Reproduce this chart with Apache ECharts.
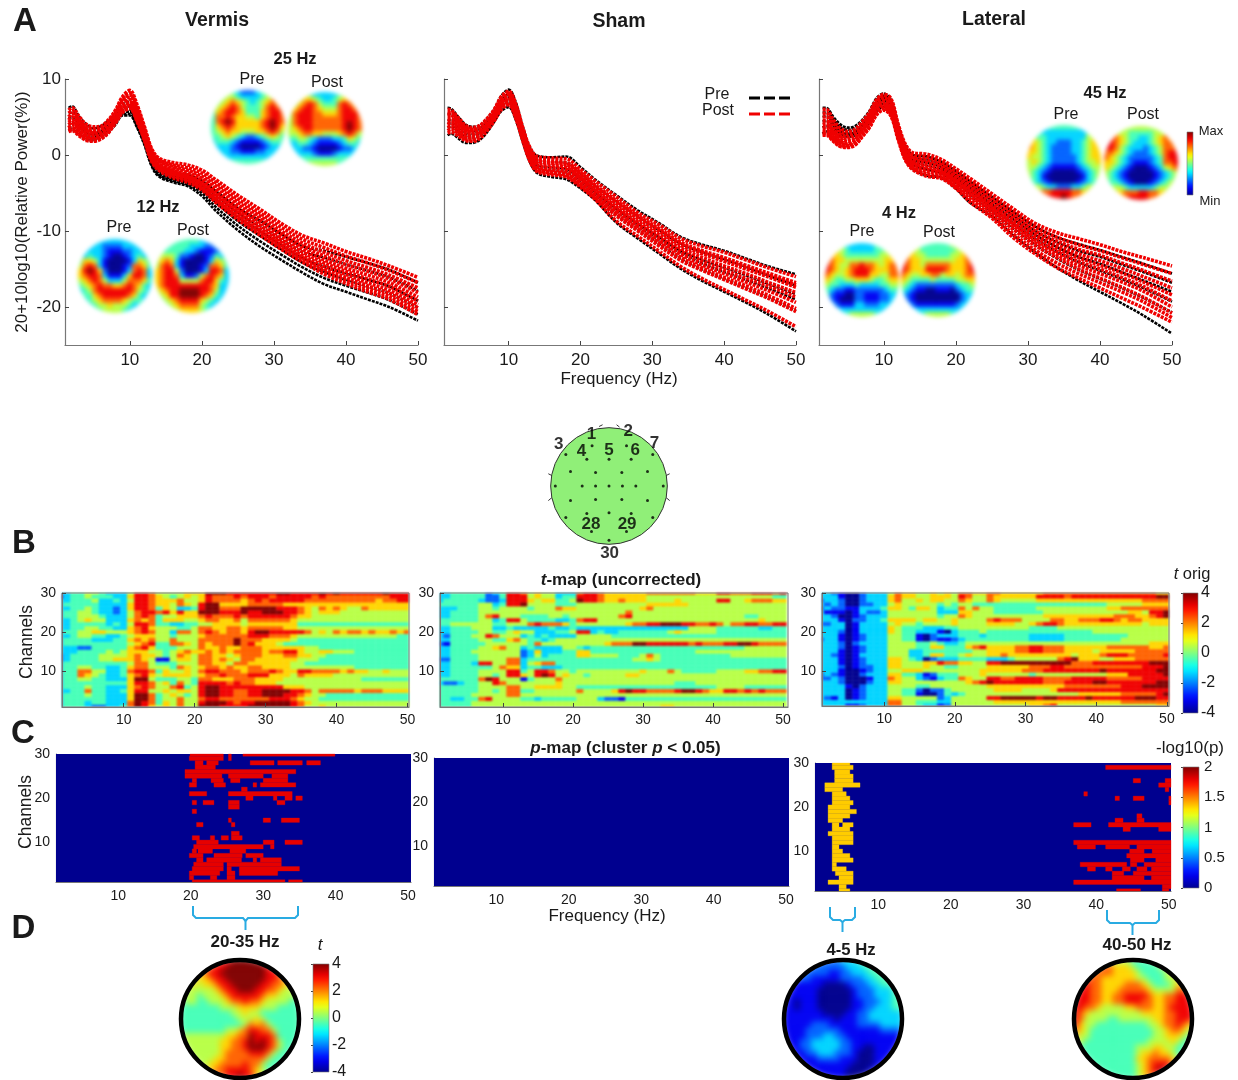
<!DOCTYPE html>
<html><head><meta charset="utf-8">
<style>html,body{margin:0;padding:0;background:#fff}
.l{position:absolute;left:0;top:0;width:1238px;height:1080px}
#u3{filter:blur(3.2px);z-index:1}#u2{filter:blur(2.2px);z-index:1}#u1{filter:blur(1.25px);z-index:1}#c{filter:blur(0.45px);z-index:2}</style>
<script src="https://cdn.jsdelivr.net/npm/echarts@6/dist/echarts.min.js"></script>
</head><body><div id="u3" class="l"></div><div id="u2" class="l"></div><div id="u1" class="l"></div><div id="c" class="l"></div>
<script>
const freqs=[1.5,2,3,4,5,6,7,8,9,10,11,12,13,14,16,18,20,22,25,28,31,34,37,40,43,46,50];
const vermisPre=[
[6.2,6.4,5.0,4.0,3.5,3.8,4.5,5.4,6.6,7.0,5.2,2.8,0.0,-1.4,-2.4,-2.6,-3.4,-4.8,-7.0,-8.6,-10.4,-12.0,-12.6,-13.4,-14.2,-15.1,-16.8],
[5.5,5.6,4.4,3.4,3.0,3.2,3.9,5.0,6.2,6.4,4.7,2.4,-0.4,-1.8,-2.7,-3.0,-3.9,-5.3,-7.6,-9.3,-11.1,-12.8,-13.5,-14.4,-15.2,-16.1,-17.9],
[4.8,5.0,3.9,3.0,2.7,3.0,3.7,4.7,5.9,6.0,4.3,2.1,-0.7,-2.1,-3.0,-3.3,-4.3,-5.9,-8.2,-10.0,-11.9,-13.6,-14.7,-15.6,-16.4,-17.3,-19.2],
[4.0,4.3,3.4,2.6,2.3,2.7,3.4,4.4,5.6,5.7,4.0,1.8,-1.0,-2.4,-3.2,-3.6,-4.6,-6.3,-8.7,-10.6,-12.4,-14.2,-15.4,-16.4,-17.3,-18.2,-20.1],
[3.5,3.6,2.9,2.2,2.0,2.4,3.2,4.2,5.4,5.4,3.8,1.6,-1.2,-2.6,-3.4,-3.9,-5.0,-6.9,-9.3,-11.3,-13.1,-14.8,-16.2,-17.2,-18.1,-19.1,-21.0],
[3.2,3.3,2.6,2.0,1.9,2.2,3.0,4.0,5.2,5.2,3.6,1.4,-1.4,-2.8,-3.6,-4.1,-5.4,-7.4,-9.9,-12.0,-13.8,-15.5,-17.0,-18.0,-19.0,-20.0,-21.8]];
const vermisPost=[
[5.9,6.2,5.0,4.0,3.7,3.8,4.6,5.9,7.7,8.5,6.6,3.8,0.9,-0.4,-1.0,-1.3,-2.0,-3.3,-5.3,-7.1,-9.0,-10.6,-11.6,-12.7,-13.6,-14.6,-16.1],
[5.5,5.8,4.6,3.7,3.4,3.6,4.4,5.7,7.4,8.2,6.3,3.6,0.7,-0.6,-1.3,-1.7,-2.4,-3.7,-5.8,-7.6,-9.5,-11.1,-12.2,-13.3,-14.2,-15.2,-16.8],
[5.0,5.4,4.3,3.4,3.1,3.4,4.2,5.5,7.1,7.9,6.0,3.3,0.5,-0.8,-1.5,-2.0,-2.8,-4.1,-6.2,-8.0,-10.0,-11.6,-12.8,-13.9,-14.8,-15.8,-17.5],
[4.6,5.0,4.0,3.2,2.9,3.2,4.0,5.3,6.9,7.6,5.8,3.1,0.3,-1.0,-1.8,-2.3,-3.1,-4.5,-6.6,-8.4,-10.4,-12.0,-13.3,-14.4,-15.3,-16.3,-18.1],
[4.3,4.6,3.7,2.9,2.7,3.0,3.8,5.1,6.6,7.3,5.5,2.9,0.1,-1.2,-2.0,-2.6,-3.4,-4.9,-7.0,-8.8,-10.8,-12.4,-13.8,-14.9,-15.8,-16.8,-18.7],
[4.0,4.3,3.4,2.7,2.5,2.8,3.6,4.9,6.4,7.0,5.3,2.7,-0.1,-1.4,-2.2,-2.8,-3.7,-5.2,-7.3,-9.2,-11.2,-12.8,-14.2,-15.3,-16.3,-17.3,-19.2],
[3.6,4.0,3.2,2.5,2.3,2.6,3.4,4.7,6.1,6.7,5.0,2.5,-0.3,-1.6,-2.4,-3.0,-3.9,-5.5,-7.6,-9.6,-11.5,-13.2,-14.6,-15.7,-16.8,-17.8,-19.7],
[3.4,3.6,2.9,2.3,2.1,2.4,3.2,4.5,5.9,6.5,4.8,2.3,-0.5,-1.7,-2.6,-3.2,-4.2,-5.8,-7.9,-9.9,-11.8,-13.5,-15.0,-16.1,-17.2,-18.2,-20.1],
[3.2,3.4,2.7,2.1,1.9,2.3,3.1,4.3,5.7,6.3,4.6,2.1,-0.6,-1.8,-2.8,-3.4,-4.4,-6.0,-8.2,-10.2,-12.1,-13.8,-15.3,-16.5,-17.6,-18.6,-20.6],
[3.1,3.2,2.5,1.9,1.8,2.1,2.9,4.2,5.6,6.1,4.4,2.0,-0.8,-2.0,-3.0,-3.6,-4.6,-6.3,-8.5,-10.5,-12.4,-14.1,-15.7,-16.9,-18.0,-19.0,-21.0]];
const shamPre=[
[6.2,6.1,5.0,4.0,3.7,3.9,4.8,6.0,7.8,8.6,6.9,3.6,0.9,-0.1,-0.3,-0.2,-1.6,-3.2,-5.3,-7.3,-9.0,-10.8,-11.8,-12.6,-13.6,-14.6,-15.7],
[5.4,5.4,4.5,3.5,3.2,3.5,4.4,5.6,7.3,8.0,6.2,3.1,0.4,-0.7,-0.9,-1.0,-2.4,-4.0,-6.1,-8.1,-9.9,-11.7,-12.8,-13.7,-14.7,-15.8,-17.2],
[4.6,4.6,3.8,3.0,2.8,3.1,4.0,5.2,6.9,7.6,5.8,2.7,0.0,-1.3,-1.6,-1.8,-3.1,-4.8,-7.0,-9.0,-10.8,-12.6,-13.8,-14.8,-15.8,-16.9,-18.3],
[4.1,4.2,3.4,2.7,2.5,2.9,3.8,5.0,6.6,7.3,5.5,2.4,-0.3,-1.6,-2.0,-2.2,-3.5,-5.2,-7.3,-9.3,-11.2,-12.9,-14.3,-15.4,-16.4,-17.5,-19.0],
[3.6,3.7,3.0,2.3,2.2,2.6,3.5,4.7,6.3,6.9,5.1,2.1,-0.6,-1.9,-2.3,-2.6,-3.9,-5.5,-7.9,-9.9,-11.8,-13.7,-15.1,-16.3,-17.5,-18.7,-20.5],
[2.6,2.8,2.2,1.6,1.6,2.0,3.0,4.4,5.8,6.3,4.6,1.6,-1.0,-2.4,-2.9,-3.2,-4.4,-5.9,-8.9,-11.0,-13.0,-15.0,-16.6,-18.0,-19.4,-20.9,-23.2]];
const shamPost=[
[6.0,5.9,4.9,3.9,3.6,3.9,4.8,6.0,7.7,8.4,6.7,3.5,0.9,-0.2,-0.4,-0.5,-1.9,-3.4,-5.5,-7.6,-9.2,-11.0,-12.0,-12.8,-13.8,-14.8,-16.0],
[5.6,5.6,4.6,3.7,3.4,3.7,4.6,5.8,7.5,8.2,6.4,3.2,0.6,-0.5,-0.8,-1.0,-2.3,-3.9,-6.0,-8.0,-9.7,-11.5,-12.6,-13.5,-14.5,-15.5,-16.8],
[5.4,5.3,4.4,3.5,3.3,3.6,4.5,5.7,7.3,8.1,6.3,3.1,0.4,-0.7,-1.0,-1.2,-2.5,-4.1,-6.2,-8.2,-9.9,-11.7,-12.8,-13.8,-14.8,-15.8,-17.1],
[5.2,5.2,4.3,3.4,3.2,3.5,4.4,5.6,7.2,8.0,6.2,3.0,0.3,-0.8,-1.1,-1.3,-2.7,-4.3,-6.4,-8.4,-10.1,-11.9,-13.0,-14.0,-15.0,-16.0,-17.4],
[4.8,4.8,4.0,3.2,3.0,3.3,4.2,5.4,7.0,7.8,6.0,2.8,0.1,-1.1,-1.4,-1.6,-3.0,-4.6,-6.8,-8.8,-10.5,-12.3,-13.5,-14.6,-15.6,-16.7,-18.1],
[4.4,4.5,3.7,3.0,2.8,3.1,4.0,5.2,6.8,7.5,5.7,2.6,-0.1,-1.4,-1.7,-1.9,-3.2,-4.9,-7.1,-9.1,-10.9,-12.7,-14.0,-15.1,-16.2,-17.2,-18.7],
[4.0,4.2,3.4,2.7,2.5,2.9,3.8,5.0,6.6,7.3,5.5,2.4,-0.3,-1.6,-2.0,-2.2,-3.5,-5.2,-7.4,-9.4,-11.3,-13.1,-14.5,-15.6,-16.7,-17.8,-19.4],
[3.6,3.8,3.1,2.4,2.3,2.7,3.6,4.8,6.4,7.0,5.3,2.2,-0.5,-1.8,-2.2,-2.5,-3.8,-5.4,-7.7,-9.7,-11.6,-13.5,-14.9,-16.1,-17.2,-18.4,-20.2],
[3.2,3.4,2.8,2.1,2.0,2.4,3.4,4.6,6.2,6.8,5.0,2.0,-0.7,-2.0,-2.4,-2.7,-4.0,-5.6,-8.0,-10.0,-12.0,-13.9,-15.2,-16.4,-17.6,-18.8,-20.6],
[2.9,3.0,2.5,1.9,1.8,2.2,3.2,4.5,6.0,6.6,4.8,1.8,-0.9,-2.2,-2.6,-2.9,-4.2,-5.8,-8.7,-10.7,-12.7,-14.7,-16.3,-17.7,-19.1,-20.5,-22.6]];
const lateralPre=[
[6.2,6.2,5.0,4.0,3.6,3.8,4.6,5.8,7.5,8.1,7.2,3.9,1.2,0.0,-0.2,-0.9,-2.1,-3.5,-5.5,-7.5,-9.4,-10.8,-11.7,-12.5,-13.4,-14.3,-15.6],
[5.6,5.6,4.6,3.6,3.3,3.5,4.4,5.6,7.2,7.8,6.9,3.6,0.9,-0.3,-0.6,-1.2,-2.5,-3.9,-6.0,-8.0,-10.0,-11.5,-12.6,-13.4,-14.4,-15.4,-16.8],
[5.0,5.1,4.2,3.3,3.0,3.3,4.1,5.3,6.9,7.5,6.6,3.3,0.6,-0.6,-1.0,-1.6,-2.9,-4.3,-6.5,-8.5,-10.5,-12.1,-13.4,-14.3,-15.4,-16.5,-18.0],
[4.4,4.5,3.8,3.0,2.8,3.0,3.9,5.0,6.6,7.2,6.3,3.0,0.3,-0.9,-1.4,-2.0,-3.2,-4.7,-6.9,-9.0,-11.0,-12.7,-14.1,-15.2,-16.3,-17.5,-19.3],
[3.6,3.8,3.4,2.8,2.6,2.8,3.6,4.7,6.2,6.8,5.9,2.7,0.0,-1.3,-1.9,-2.4,-3.7,-5.3,-7.5,-9.7,-11.8,-13.6,-15.1,-16.3,-17.5,-18.8,-20.7],
[2.8,3.1,3.0,2.5,2.4,2.6,3.3,4.3,5.8,6.3,5.4,2.3,-0.5,-1.8,-2.7,-3.0,-4.4,-6.3,-8.1,-10.6,-12.8,-14.8,-16.5,-18.0,-19.5,-21.1,-23.5]];
const lateralPost=[
[6.0,6.0,4.6,3.5,3.1,3.4,4.4,5.6,7.3,8.0,7.4,4.0,1.4,0.3,0.1,-0.6,-1.8,-3.1,-5.1,-7.1,-9.0,-10.2,-11.0,-11.8,-12.7,-13.5,-14.6],
[5.5,5.5,4.2,3.1,2.7,3.0,4.0,5.3,7.0,7.8,7.1,3.7,1.1,0.0,-0.3,-1.0,-2.2,-3.5,-5.6,-7.6,-9.5,-10.8,-11.8,-12.6,-13.5,-14.4,-15.6],
[5.0,5.0,3.7,2.7,2.4,2.7,3.7,5.0,6.7,7.5,6.8,3.5,0.9,-0.3,-0.7,-1.3,-2.6,-3.9,-6.0,-8.0,-10.0,-11.3,-12.4,-13.2,-14.2,-15.2,-16.6],
[4.5,4.5,3.3,2.4,2.1,2.4,3.4,4.8,6.4,7.2,6.5,3.3,0.7,-0.5,-1.0,-1.6,-2.9,-4.2,-6.4,-8.4,-10.4,-11.8,-13.0,-13.9,-14.9,-16.0,-17.5],
[4.0,4.1,3.0,2.1,1.8,2.1,3.2,4.6,6.2,7.0,6.2,3.0,0.4,-0.8,-1.3,-1.9,-3.1,-4.5,-6.7,-8.8,-10.8,-12.3,-13.5,-14.5,-15.5,-16.7,-18.4],
[3.6,3.7,2.7,1.8,1.5,1.9,3.0,4.3,6.0,6.7,6.0,2.8,0.2,-1.0,-1.6,-2.2,-3.4,-4.8,-7.0,-9.1,-11.2,-12.7,-14.0,-15.0,-16.1,-17.3,-19.2],
[3.3,3.3,2.4,1.6,1.3,1.7,2.8,4.1,5.8,6.5,5.7,2.6,0.0,-1.2,-1.9,-2.4,-3.6,-5.1,-7.3,-9.4,-11.5,-13.1,-14.5,-15.6,-16.7,-17.9,-20.0],
[3.0,3.0,2.1,1.4,1.2,1.5,2.6,3.9,5.6,6.3,5.5,2.4,-0.3,-1.5,-2.2,-2.6,-3.9,-5.4,-7.6,-9.8,-11.9,-13.5,-15.0,-16.2,-17.4,-18.7,-20.8],
[2.8,2.8,1.9,1.2,1.1,1.4,2.5,3.7,5.4,6.1,5.3,2.2,-0.5,-1.7,-2.5,-2.9,-4.2,-5.8,-8.0,-10.4,-12.5,-14.2,-15.6,-16.8,-18.0,-19.3,-21.4],
[2.6,2.6,1.8,1.1,1.0,1.3,2.4,3.6,5.3,5.9,5.1,2.0,-0.7,-1.9,-2.8,-3.1,-4.4,-6.2,-8.3,-10.9,-13.0,-14.8,-16.2,-17.5,-18.8,-20.1,-22.0]];

// t-map cells: rows channel 30 down to 1, columns 1..50 Hz; digit 0..9 spans t -4..4
const tVermis=[
"3344554333 5887555566 6999888888 8998888989 8888889888","1344544433 6887654565 6877787888 7888887877 7777777888",
"3344453343 5887666755 6877776787 8888877777 7777767788","3444443333 6887665765 8996666777 7766666666 6666666666",
"3344543323 6887465334 8997779999 9888765767 6557666666","3445543323 5788786866 9998889889 9988765666 5555555555",
"3445554333 5787455666 7877787888 8887665555 5555555555","3345655333 6767466655 6776675777 7776555555 5555555555",
"3344444343 5887443344 5566665666 6666444444 4444444444","3344554433 6786555445 7766776777 7766555555 5555555555",
"3445566555 6787553775 7876776899 8888875657 6776766767","3345544334 5666554555 6777777888 7776555555 5555555544",
"3444433344 6767557555 7777797776 6665444444 4444444444","3444444444 5678447765 7677797866 6544444444 4444444444",
"3332244444 6786444555 7667667776 6666655444 4444444444","3334444545 6665545676 6767677776 7788655665 5544444444",
"2344445555 6766545765 7766567776 6677665544 4444444444","2344445566 6765115665 7767657766 6666555444 4444444444",
"3444444444 5775444555 7766577666 6665544444 4444444444","3445544334 6775554765 6776766776 6665555555 5544444444",
"3447755334 7887465565 7887776777 8766887777 6766556555","3447654334 6786566665 6778777888 6665766665 5555555555",
"3445544333 6995444554 7766677766 6655555555 5554444444","3444444444 6887564754 8888787766 6555555555 5555555555",
"3444544333 6787557845 8998888888 8866655555 5555555555","3344744334 6885565665 8998877889 9998875777 7767776666",
"3444544333 6997456545 8998877889 9988765544 4444444444","3444444333 6997455755 7887777777 8887655444 4444444444",
"3444344333 7987465755 8999878899 9998765555 5555555555","3444322334 7986565755 9998888999 9998755655 5555555555"];
const tSham=[
"3344444234 8875655333 7887666666 7777777666 8877788878","3344444224 8885655344 8887666666 5555555555 5555555544",
"3444443223 8886566445 9887667666 5555655555 8855677766","4444445534 8895555444 5555555555 6666665555 5555555555",
"3334445545 5554555766 5555555556 7555555555 5555555555","3344445555 5555555555 5555555755 5555555555 5555555555",
"3344445785 5544445545 5555557855 5555555555 5555445555","4444445534 8854444334 7885555555 5555555555 5555556555",
"4455555544 5557877764 5555555677 8899988778 7577887788","3344455533 4333334334 3333333333 3333335555 4444443344",
"3344445544 5655333445 8834334444 4445655555 4444444444","3244455875 5534343333 5555544444 4444444444 4444444444",
"3344445544 6754434555 5555555555 5555555555 5555555555","2144444555 5554755555 5555677799 8888887877 7889987777",
"3344445567 5534333355 4344444444 4444444444 4444555555","3344455555 5523633344 6644444444 4444444555 5555555555",
"3344445555 5523534444 6655554445 7544444444 4455555555","2244445555 7734444444 4444444455 6544444444 4444444444",
"3344438855 7735677444 4444444444 4444444444 4444444444","3344444457 6634433344 4444444444 4444444444 4444444444",
"3344445555 8845887554 5555555556 5557544444 5555667788","3344445545 8865898565 5455555665 5555555555 5555555555",
"4444447985 5514555755 5555555555 5555555555 5555555555","3223445587 5555555655 5555555555 5555444555 5555555555",
"4444445555 7755666655 4444444444 4444444444 5555444444","4444445545 7744555555 7555568988 7777899876 6887878777",
"4444455555 7755555555 5555555555 5555555555 5555555555","4433447855 5544344444 5553221444 4444444444 4444444444",
"4444455555 5555555555 5555555555 5555555555 5555555555","4444455555 5555555555 5555555555 5566555555 5555555555"];
const tLateral=[
"3321002333 5766556565 7766776666 6677777777 7777777766","3331002333 6766556665 8755766666 6888878888 8888888899",
"2332002333 6755656655 7655765555 5666666666 6666667777","3232002233 5655555454 5544444444 4444444444 4555556666",
"2322113334 6654665344 7575544444 4555555555 5667777777","3111013223 5555555333 6655544444 4455555555 5555665889",
"3320012333 5555555455 7655555555 5566666666 6677766789","3331022334 6666566556 5555787775 5557766777 8876776666",
"2233013333 5655455556 5555666655 6788766666 6666665666","3333013333 6544433344 5555555555 4444555555 5555555555",
"3332013333 6544333103 4445444444 4444444445 5555555555","3331012333 5544102333 4443444444 3333344444 4444555555",
"2331012333 5544102112 3444444444 3333344444 4445555555","3332023333 5555445433 4555555555 5555555555 5555555666",
"3332012333 5555446644 4678666677 8877766666 6777777667","3331012333 5553344444 4455666677 8877766665 6666677777",
"3321013333 5553346644 5655667666 6666665666 7888777778","3331012333 6654302333 4444333455 5555789666 5566677777",
"3331012333 6655566877 6655889999 9999997778 8888888999","3332012233 6655565544 5555666666 7778877777 7777778889",
"3331001233 5566655555 5556666667 7788888888 9888888899","2321002333 6644312444 5556555555 4555555555 5666888889",
"2232000133 7655321344 7655887788 8877778888 8777778888","3332000233 6655555555 5678988888 8877788889 9888888899",
"3333102333 5555445555 5555666666 6666677777 7778889999","3333012333 5544202245 5555566665 5556888888 8888888888",
"3333012333 5544100243 4555555555 5555555666 6667777789","3213012333 6655555235 5555889999 9899888898 8888899988",
"3333333333 7755444335 5555566666 6666666666 6667777777","3333112333 7755433125 5555555555 6678555555 5555555566"];

// p-map significant runs [channel, fromHz, toHz]
const pVermisRed=[
[30,19.9,24.5],[30,25.2,25.6],[30,27.2,39.9],[29,19.8,24.5],[29,25.2,25.6],[28,20.6,21.7],[28,22.2,23.8],[28,28.2,31.5],[28,32,35.4],[28,36,37.9],
[27,20.6,23.4],[26,19.2,34.5],[25,19.2,24.3],[25,25.2,30],[25,31.2,33.4],[24,20.2,20.8],[24,22.8,24.5],[24,25.5,26.8],[24,30,33.4],
[23,19.8,20.8],[23,23.2,24.8],[23,28.6,29.1],[23,29.6,34.5],[22,27,27.8],[21,19.8,22.2],[21,25.2,34],[20,27.6,28.6],[20,31.4,31.9],[20,33,34],[20,34.5,35.4],
[19,20.2,20.8],[19,21.7,23.2],[19,25.2,26.7],[19,31.9,33],[18,25.2,26.7],[17,20.2,20.8],[15,25.2,25.6],[15,30,31],[15,32.5,35],[14,20.8,21.7],[14,25.6,26.1],
[12,25.6,26.7],[11,20.2,21.2],[11,22.7,23.3],[11,24.2,25.2],[11,25.6,27.1],[10,20.8,23.8],[10,30,31.5],[10,33,35.4],[9,20.4,30],[9,31,31.5],
[8,20.2,20.8],[8,21,23],[8,25.4,27.6],[7,19.8,21.7],[7,23.2,27.1],[7,27.6,30],[6,20.8,21.7],[6,22.2,27],[6,28.6,29.1],[6,29.6,32.5],
[5,20.4,24.5],[5,25,32.5],[4,20.2,24.5],[4,25,25.6],[4,26.7,35],[3,19.8,24],[3,25,26.1],[3,26.7,32],[2,19.8,20.4],[2,22.7,23.6],[2,25,26.1],[1,20.2,33],[1,33.5,35.4]];
const pLateralYellow=[
[30,3.66,6.1],[29,3.66,6.55],[28,4,6.1],[27,4,6.55],[26,4,6.55],[25,2.65,7.5],[24,2.65,5.1],[23,3.66,5.6],[22,3.66,6.1],[21,3.66,6.55],
[20,3.1,6.1],[19,3.1,7],[18,3.1,6.1],[17,3.1,5.1],[16,3.66,4.6],[16,5.1,6.55],[15,3.66,6.1],[14,3.1,6.55],[13,3.66,6.55],[12,3.66,6.55],
[11,3.66,4.6],[10,3.66,5.1],[9,3.66,6.1],[8,3.66,6.55],[7,3.66,4.25],[6,3.66,5.6],[5,4.1,6.55],[4,4.6,6.55],[3,3.1,6.55],[2,4.6,5.6],[1,4.6,6.1]];
const pLateralRed=[
[29,41.3,50.3],[26,45.1,46.1],[26,49.5,50.3],[25,48.6,50.3],[24,49.5,50],[23,38.3,38.8],[22,42.6,43.2],[22,45.1,46.6],[22,50,50.3],[21,50,50.3],
[18,45.6,46.3],[17,42.6,43.7],[17,45.6,46.6],[16,36.9,39.3],[16,41.7,50.3],[15,43.7,44.7],[15,48.6,50.3],[12,36.9,50.3],[11,37.4,39.9],[11,41.3,44.6],[11,45.6,50.3],
[10,44.6,46.6],[10,47.7,50.3],[9,44.2,50.3],[8,44.7,46.6],[8,48.2,50.3],[7,37.8,44.2],[7,44.7,45.6],[7,46.6,50.3],[6,38.8,39.9],[6,41.3,42.2],[6,43.6,44.7],[6,45.6,47],[6,47.6,50.3],
[5,42.2,43.8],[5,45.1,50.3],[4,42.2,46.6],[4,47.6,50.3],[3,36.9,50.3],[2,49.1,50.3],[1,42.8,46.1],[1,49.1,50]];

// scalp maps: rows top to bottom; digit 0..9 spans the colour range
const topo25Pre=["444443222344444","444554333345544","445676543456764","456787544457875","467887644467887","477876655467887","478986666678987","467876666678986","456766555667875","445654322345654","344432111123444","333321000012333","333322111223333","333333333333333","344444444444444"];
const topo25Post=["444443333344444","444665433456644","446787544478765","567887655578876","578887766678887","578887777778887","578887777778987","567887777778987","556776655567875","445543222334654","334432111123443","333221000012233","333332111233333","334444444444433","444455555544444"];
const topo12Pre=["333333333333333","333332222333333","333332111223333","334332100123433","466531000013654","578731000127764","689862000137873","678873111368873","567875333577764","456787766787643","345788888887543","344678888876433","334567777654433","333455655543333","333345555433333"];
const topo12Post=["444444444333333","444444433322333","444444332111233","455542210012433","567631000013654","578731000127764","678852000138873","678873112578763","678885555788643","678888888887633","567889999887533","456889999876433","445678888654333","344567777543333","444556666544444"];
const topo45Pre=["444444444444444","554333333333455","654433333333556","765433222334566","765432222334566","665432222334566","655432222234566","565432222234556","554321111123455","543210000012345","543100000001345","543210000012345","555433222334555","556778888776655","556788898776655"];
const topo45Post=["555555555555555","876554444455565","887654433456766","887654333456776","887543332345777","776543222345788","765432222234788","665432111234778","654321000123567","543210000012345","543210000012345","544321000123455","555543333345555","556677788776655","556778888776655"];
const topo4Pre=["444433333344444","555543333344555","766544444445566","876655555555666","876557787765677","876567888766677","765567888665577","654455666544566","544333433334455","432211222222344","421100221112233","321000221112233","332111332223333","333333333333344","444445555544444"];
const topo4Post=["445544444455544","655544444445566","766554444455677","876655555556677","876657777766678","876668888766678","765566775665677","654444544445566","543222222223445","432110011102344","321000000000233","321000000000233","332111111112333","333333333333344","444445555544444"];
const topoD2035=["555566788999998875555","555677889999999887655","556678899999999887665","556667889999999887665","556566788999998877665","555555678899988776555","555455567888887665555","455445556778776555544","444444455566665554444","444444444556554444444","444444444455565444444","444444444445767544444","444444445567887754444","555555556677988874444","555555566778989875444","555555566778999875444","555555567777888754444","555555667777777544444","555556677778775444444","555566778888765444444","555566778898865444444"];
const topoD45=["222222222233344444444","222222222223334444444","222222221122333444444","222221111122223344444","111111100001222334444","111111000000122233344","111111000000122233344","110111000000112223344","110111000000112233344","111111100001122333333","111111111011122333333","111112221111122223333","111122222211111112222","111122233221111111111","111223333322111111111","111223333322110011111","111122333222100011111","111111222211100011111","111111111111000011111","111111111110000111111","111111111110001111111"];
const topoD4050=["555666655544445555555","666677766654444555555","777777766665444456666","888776666665544455677","888776666777654445677","888776667777765555778","888776677888876677888","888776677888776677888","887765555667776678888","876555555555666677888","875555445555556677888","865544444444455677876","765444444444445567765","655444444444445566654","654444444444455556544","544444444445556655444","544444444445667665444","444444444446677776544","444444444445678887654","444444444445678987654","444444444445678986544"];

const electrodeX=[-0.29,0.30,-0.74,-0.38,0,0.38,0.75,-0.66,-0.23,0.22,0.66,-0.92,-0.46,-0.23,0,0.23,0.46,0.93,-0.66,-0.23,0.22,0.66,-0.38,0,0.38,-0.74,0.75,-0.30,0.30,0];
const electrodeY=[0.69,0.69,0.54,0.46,0.46,0.46,0.54,0.25,0.23,0.23,0.25,0,0,0,0,0,0,0,-0.25,-0.23,-0.23,-0.25,-0.47,-0.46,-0.47,-0.54,-0.54,-0.78,-0.78,-0.93];
const electrodeNames=["1","2","3","4","5","6","7","28","29","30"];
const electrodeNameX=[-0.30,0.33,-0.86,-0.47,0,0.45,0.78,-0.31,0.31,0.01];
const electrodeNameY=[0.89,0.93,0.71,0.60,0.61,0.61,0.73,-0.65,-0.65,-1.16];
const headMarks=[[-1.04,0.21,-0.98,0.18],[-1.04,-0.25,-0.98,-0.2],[1.04,0.21,0.98,0.18],[1.04,-0.25,0.98,-0.2],[-0.17,1.02,-0.11,1.05],[0.13,1.05,0.18,1.01]];

const FONT='"Liberation Sans",Arial,sans-serif', INK='#1a1a1a', AX='#777';
const stops=[[0,0,0,143],[.125,0,0,255],[.375,0,255,255],[.625,255,255,0],[.875,255,0,0],[1,128,0,0]];
function jet(n){for(let i=1;i<stops.length;i++){if(n<=stops[i][0]){const a=stops[i-1],b=stops[i],k=(n-a[0])/(b[0]-a[0]);
 return 'rgb('+[1,2,3].map(j=>Math.round(a[j]+(b[j]-a[j])*k)).join(',')+')';}}return 'rgb(128,0,0)';}
const mk=()=>({animation:false,textStyle:{fontFamily:FONT},grid:[],xAxis:[],yAxis:[],series:[]});
const M=mk(),U1=mk(),U2=mk(),U3=mk();
function addAxes(T,box,xo,yo){const i=T.grid.length;T.grid.push(Object.assign({containLabel:false},box));
 T.xAxis.push(Object.assign({gridIndex:i,type:'value',splitLine:{show:false}},xo));
 T.yAxis.push(Object.assign({gridIndex:i,type:'value',splitLine:{show:false}},yo));return i;}
const hidden=(min,max)=>({show:false,min,max});
const tickVals=[10,20,30,40,50];
function valAxis(min,max,vals,fs,margin,show){return {min,max,
 axisLine:{show:true,onZero:false,lineStyle:{color:AX,width:1.2}},
 axisTick:{show:true,inside:true,length:4,customValues:vals,lineStyle:{color:'#444'}},
 axisLabel:{show:show!==false,customValues:vals,color:INK,fontSize:fs,fontFamily:FONT,margin,hideOverlap:false}};}

// A: spectra
function spectra(left,right,pre,post,showY,name){
 const yo=valAxis(-25,10,[-20,-10,0,10],17,4,showY);
 if(name){yo.name=name;yo.nameLocation='middle';yo.nameGap=34;yo.nameTextStyle={fontSize:17,color:INK,fontFamily:FONT};}
 const xo=valAxis(1,50,tickVals,17,7);
 const i=addAxes(M,{left,width:right-left,top:79,height:266},xo,yo);
 const add=(c,col,z,w)=>M.series.push({type:'line',xAxisIndex:i,yAxisIndex:i,data:freqs.map((f,k)=>[f,c[k]]),showSymbol:false,smooth:.35,silent:true,animation:false,z,
   lineStyle:{color:col,width:w,type:[3,1.1]}});
 pre.forEach(c=>add(c,'#000',3,2.6));post.forEach(c=>add(c,'#f00000',4,3.6));
}
spectra(65,418,vermisPre,vermisPost,true,'20+10log10(Relative Power(%))');
spectra(444,796,shamPre,shamPost,false);
spectra(819,1172,lateralPre,lateralPost,false);

// B: t maps
function tmap(box,xmin,xmax,rows){
 addAxes(M,Object.assign({show:true,borderColor:AX,borderWidth:1},box),valAxis(xmin,xmax,tickVals,14,6),valAxis(1,30,[10,20,30],14,6));
 const i=addAxes(U1,box,hidden(xmin,xmax),hidden(1,30));
 const data=[];rows.forEach((r,ri)=>{r.replace(/ /g,'').split('').forEach((d,c)=>data.push([c+1,30-ri,+d]));});
 U1.series.push({type:'custom',xAxisIndex:i,yAxisIndex:i,data,clip:true,silent:true,animation:false,z:2,encode:{x:0,y:1},
  renderItem(p,api){const a=api.coord([api.value(0)-.5,api.value(1)+.5]),b=api.coord([api.value(0)+.5,api.value(1)-.5]);const col=jet(api.value(2)/9);
   const c=p.coordSys;const x1=Math.max(a[0],c.x),x2=Math.min(b[0],c.x+c.width),y1=Math.max(a[1],c.y),y2=Math.min(b[1],c.y+c.height);
   return {type:'rect',shape:{x:x1,y:y1,width:x2-x1,height:y2-y1},style:{fill:col,stroke:col,lineWidth:.4}};}});
}
tmap({left:62,width:347,top:593,height:114},1.3,50.2,tVermis);
tmap({left:440,width:348,top:593,height:114},1,50.7,tSham);
tmap({left:822,width:347,top:593,height:113},1.2,50.3,tLateral);

// C: p maps
function pmap(box,xmin,xmax,groups){
 const i=addAxes(M,box,valAxis(xmin,xmax,tickVals,14,7),valAxis(1,30,[10,20,30],14,6));
 M.series.push({type:'custom',xAxisIndex:i,yAxisIndex:i,data:[[xmin,1,xmax,30]],silent:true,animation:false,z:1,encode:{x:[0,2],y:[1,3]},
  renderItem(p,api){const a=api.coord([api.value(0),api.value(3)]),b=api.coord([api.value(2),api.value(1)]);
   return {type:'rect',shape:{x:a[0],y:a[1],width:b[0]-a[0],height:b[1]-a[1]},style:{fill:'#00008f'}};}});
 groups.forEach(g=>M.series.push({type:'custom',xAxisIndex:i,yAxisIndex:i,data:g.runs,silent:true,animation:false,z:2,encode:{x:[1,2],y:0},
  renderItem(p,api){const r=api.value(0),a=api.coord([api.value(1),Math.min(r+.5,30)]),b=api.coord([api.value(2),Math.max(r-.5,1)]);
   return {type:'rect',shape:{x:a[0],y:a[1],width:b[0]-a[0],height:b[1]-a[1]},style:{fill:g.color,stroke:g.color,lineWidth:.3}};}}));
}
pmap({left:56,width:355,top:754,height:128},1.4,50.4,[{runs:pVermisRed,color:'#e60000'}]);
pmap({left:434,width:355,top:758,height:128},1.4,50.4,[]);
pmap({left:815,width:356,top:763,height:128},1.3,50.3,[{runs:pLateralYellow,color:'#ffcc00'},{runs:pLateralRed,color:'#e60000'}]);

// colour bars
function colorbar(box,min,max,interval,fs,margin){
 const yo=fs?{min,max,interval,position:'right',axisLine:{show:false},axisTick:{show:true,inside:true,length:2,lineStyle:{color:'#444'}},axisLabel:{color:INK,fontSize:fs,fontFamily:FONT,margin}}:hidden(min,max);
 const i=addAxes(M,box,hidden(0,1),yo);
 const gs=[];for(let k=0;k<=20;k++)gs.push({offset:k/20,color:jet(1-k/20)});
 M.series.push({type:'custom',xAxisIndex:i,yAxisIndex:i,data:[[0,min,1,max]],silent:true,animation:false,z:8,encode:{x:[0,2],y:[1,3]},
  renderItem(p,api){const a=api.coord([api.value(0),api.value(3)]),b=api.coord([api.value(2),api.value(1)]);
   return {type:'rect',shape:{x:a[0],y:a[1],width:b[0]-a[0],height:b[1]-a[1]},style:{fill:new echarts.graphic.LinearGradient(0,0,0,1,gs),stroke:'#777',lineWidth:.6}};}});
}
colorbar({left:1183,width:15,top:593,height:120},-4,4,2,16,3);
colorbar({left:1183,width:16,top:767,height:121},0,2,.5,15,5);
colorbar({left:313,width:16,top:964,height:108},-4,4,2,16,3);
colorbar({left:1187,width:6,top:132,height:63},0,1);

// scalp maps
function topo(cx,cy,r,rows,ring){
 const T=ring?U3:U2;
 const n=rows.length,i=addAxes(T,{left:cx-r,top:cy-r,width:2*r,height:2*r},hidden(0,n),hidden(0,n));
 const data=[];rows.forEach((row,ri)=>row.split('').forEach((d,c)=>data.push([c,n-1-ri,+d])));
 T.series.push({type:'custom',xAxisIndex:i,yAxisIndex:i,data,clip:false,silent:true,animation:false,z:6,encode:{x:0,y:1},
  renderItem(p,api){const a=api.coord([api.value(0),api.value(1)+1]),b=api.coord([api.value(0)+1,api.value(1)]);const col=jet(api.value(2)/9);
   return {type:'rect',shape:{x:a[0],y:a[1],width:b[0]-a[0],height:b[1]-a[1]},style:{fill:col,stroke:col,lineWidth:.5},
     clipPath:{type:'circle',shape:{cx,cy,r}}};}});
 if(ring){const j=addAxes(M,{left:cx-r,top:cy-r,width:2*r,height:2*r},hidden(0,n),hidden(0,n));
  M.series.push({type:'custom',xAxisIndex:j,yAxisIndex:j,data:[[n/2,n/2]],clip:false,silent:true,animation:false,z:7,encode:{x:0,y:1},
  renderItem(p,api){const c=api.coord([api.value(0),api.value(1)]);
   return {type:'group',children:[
    {type:'circle',shape:{cx:c[0],cy:c[1],r:r+5},style:{fill:'none',stroke:'#fff',lineWidth:10}},
    {type:'circle',shape:{cx:c[0],cy:c[1],r:r-1},style:{fill:'none',stroke:'#000',lineWidth:4.5}}]};}});}
}
topo(115,276,37,topo12Pre);topo(192,276,37,topo12Post);
topo(248,127,37,topo25Pre);topo(325,129,37,topo25Post);
topo(1064,162,37,topo45Pre);topo(1141,163,37,topo45Post);
topo(862,280,37,topo4Pre);topo(938,280,37,topo4Post);
topo(240,1019,60,topoD2035,true);topo(843,1019,60,topoD45,true);topo(1133,1019,60,topoD4050,true);

// electrode map
(function(){
 const i=addAxes(M,{left:539,top:416,width:140,height:140},hidden(-1.2,1.2),hidden(-1.2,1.2));
 const S=M.series;
 S.push({type:'custom',xAxisIndex:i,yAxisIndex:i,data:[[0,0]],clip:false,silent:true,animation:false,z:2,encode:{x:0,y:1},
  renderItem(p,api){const c=api.coord([0,0]),e=api.coord([1,0]);
   return {type:'circle',shape:{cx:c[0],cy:c[1],r:e[0]-c[0]},style:{fill:'#90ef78',stroke:'#333',lineWidth:1}};}});
 S.push({type:'custom',xAxisIndex:i,yAxisIndex:i,data:headMarks,clip:false,silent:true,animation:false,z:2,encode:{x:[0,2],y:[1,3]},
  renderItem(p,api){const a=api.coord([api.value(0),api.value(1)]),b=api.coord([api.value(2),api.value(3)]);
   return {type:'line',shape:{x1:a[0],y1:a[1],x2:b[0],y2:b[1]},style:{stroke:'#333',lineWidth:1}};}});
 S.push({type:'scatter',xAxisIndex:i,yAxisIndex:i,data:electrodeX.map((x,k)=>[x,electrodeY[k]]),symbolSize:3,itemStyle:{color:'#000'},silent:true,animation:false,z:3});
 S.push({type:'scatter',xAxisIndex:i,yAxisIndex:i,data:electrodeNames.map((s,k)=>[electrodeNameX[k],electrodeNameY[k],s]),symbolSize:0,silent:true,animation:false,z:4,
  label:{show:true,position:'inside',formatter:p=>p.value[2],color:'#000',fontSize:17,fontFamily:FONT,fontWeight:'bold',textBorderWidth:0}});
})();

// texts
const txt=(s,x,y,size,o={})=>({type:'text',x,y,z:20,silent:true,rotation:o.rot||0,style:{text:s,fill:INK,fontSize:size,fontFamily:FONT,fontWeight:o.b?'bold':'normal',textAlign:'center',textVerticalAlign:'middle',rich:o.rich}});
const ri=(size,b)=>({i:{fontStyle:'italic',fontWeight:b?'bold':'normal',fontSize:size,fontFamily:FONT,fill:INK},n:{fontWeight:b?'bold':'normal',fontSize:size,fontFamily:FONT,fill:INK}});
const g=[
 txt('A',25,22,33,{b:1}),txt('B',24,544,33,{b:1}),txt('C',23,734,33,{b:1}),txt('D',23.5,929,33,{b:1}),
 txt('Vermis',217,21,19.5,{b:1}),txt('Sham',619,22,19.5,{b:1}),txt('Lateral',994,20,19.5,{b:1}),
 txt('25 Hz',295,59,16.5,{b:1}),txt('Pre',252,80,16),txt('Post',327,83,16),
 txt('12 Hz',158,207,16.5,{b:1}),txt('Pre',119,228,16),txt('Post',193,231,16),
 txt('45 Hz',1105,93,16.5,{b:1}),txt('Pre',1066,115,16),txt('Post',1143,115,16),
 txt('4 Hz',899,213,16.5,{b:1}),txt('Pre',862,232,16),txt('Post',939,233,16),
 txt('Pre',717,95,16),txt('Post',718,111,16),
 txt('Max',1211,131,13),txt('Min',1210,201,13),
 txt('Frequency (Hz)',619,379,17),txt('Frequency (Hz)',607,916,17),
 txt('{i|t}{n|-map (uncorrected)}',621,580,17,{rich:ri(17,true)}),
 txt('{i|p}{n|-map (cluster }{i|p}{n| < 0.05)}',625.5,748,17,{rich:ri(17,true)}),
 txt('{i|t}{n| orig}',1192,574,16.5,{rich:ri(16.5,false)}),
 txt('-log10(p)',1190,748,17),
 txt('Channels',27,642,17.5,{rot:Math.PI/2}),txt('Channels',26,812,17.5,{rot:Math.PI/2}),
 txt('20-35 Hz',245,942,17,{b:1}),txt('4-5 Hz',851,950,16.7,{b:1}),txt('40-50 Hz',1137,945,17,{b:1}),
 txt('{i|t}',320,945,17,{rich:ri(17,false)}),
];
const BC='#29abe2';
const br=(pts)=>({type:'polyline',z:20,silent:true,shape:{points:pts},style:{stroke:BC,lineWidth:2,fill:'none'}});
const stem=(x,y1,y2)=>({type:'line',z:20,silent:true,shape:{x1:x,y1,x2:x,y2},style:{stroke:BC,lineWidth:2}});
g.push(br([[193,906],[193,915],[196,918],[243,918],[245.5,921],[248,918],[295,918],[298,915],[298,906]]),stem(245.5,920,930),
 br([[830,907],[830,917],[833,920],[840,920],[842.5,922],[845,920],[852,920],[855,917],[855,907]]),stem(842.5,921,932),
 br([[1107,910],[1107,920],[1110,923],[1130,923],[1132.5,925],[1135,923],[1156,923],[1159,920],[1159,910]]),stem(1132.5,924,935),
 {type:'line',z:20,silent:true,shape:{x1:749,y1:98,x2:790,y2:98},style:{stroke:'#000',lineWidth:3,lineDash:[11,4]}},
 {type:'line',z:20,silent:true,shape:{x1:749,y1:114,x2:790,y2:114},style:{stroke:'#f00000',lineWidth:3,lineDash:[11,4]}});
M.graphic={elements:g};

echarts.init(document.getElementById('u3')).setOption(U3);
echarts.init(document.getElementById('u2')).setOption(U2);
echarts.init(document.getElementById('u1')).setOption(U1);
echarts.init(document.getElementById('c')).setOption(M);
</script></body></html>
